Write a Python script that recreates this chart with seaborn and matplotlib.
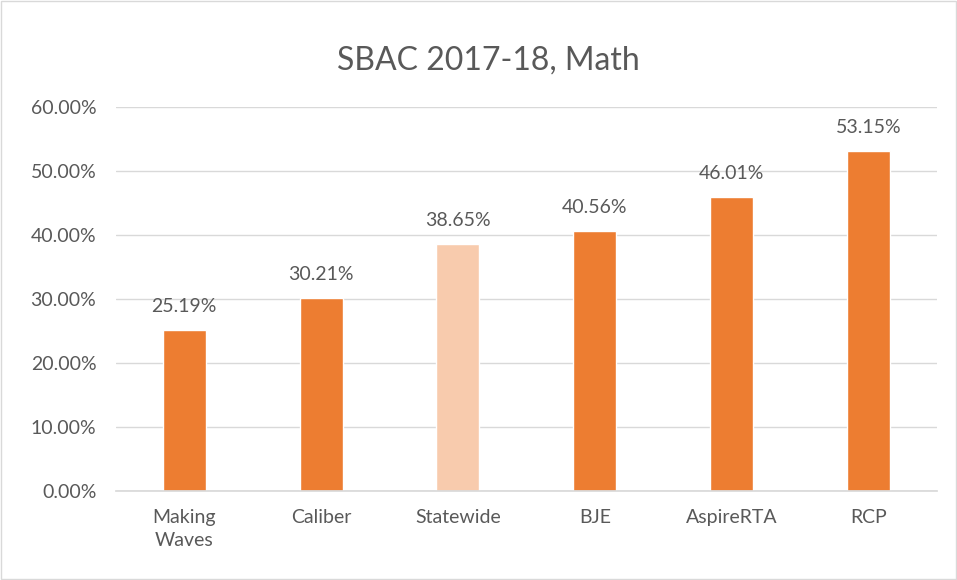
import numpy as np
import pandas as pd
import seaborn as sns
import matplotlib.pyplot as plt
import matplotlib.ticker as mtick
from matplotlib.patches import Rectangle

# data
schools = ['Making\nWaves', 'Caliber', 'Statewide', 'BJE', 'AspireRTA', 'RCP']
pct = [25.19, 30.21, 38.65, 40.56, 46.01, 53.15]
bar_colors = ['#ED7D31', '#ED7D31', '#F8CBAD', '#ED7D31', '#ED7D31', '#ED7D31']

sns.set_theme(style="white")
plt.rcParams['font.family'] = ['Lato', 'DejaVu Sans']
txt = '#595959'

df = pd.DataFrame({'school': schools, 'pct': np.array(pct) / 100})

fig = plt.figure(figsize=(9.57, 5.80), dpi=100)
ax = fig.add_axes([0.121, 0.1534, 0.858, 0.662])

sns.barplot(data=df, x='school', y='pct', hue='school', palette=bar_colors,
            legend=False, width=0.314, saturation=1, ax=ax)

for i, v in enumerate(pct):
    ax.annotate(f'{v:.2f}%', (i, v / 100), xytext=(0, 13), textcoords='offset points',
                ha='center', va='baseline', fontsize=14, color=txt)

ax.set_ylim(0, 0.6)
ax.set_xlim(-0.5, len(schools) - 0.5)
ax.yaxis.set_major_locator(mtick.MultipleLocator(0.1))
ax.yaxis.set_major_formatter(mtick.PercentFormatter(1.0, decimals=2))
ax.grid(True, axis='y', color='#D9D9D9', linewidth=1)
ax.set_axisbelow(True)
for s in ['top', 'right', 'left']:
    ax.spines[s].set_visible(False)
ax.spines['bottom'].set_color('#D9D9D9')
ax.tick_params(axis='both', length=0, labelsize=14, colors=txt)
ax.tick_params(axis='y', pad=14)
ax.tick_params(axis='x', pad=13)
for lab in ax.get_xticklabels():
    lab.set_linespacing(1.45)
ax.set_xlabel('')
ax.set_ylabel('')

fig.text(0.51, 1 - 61 / 580, 'SBAC 2017-18, Math', ha='center', va='center',
         fontsize=23, color=txt)

# chart area border
fig.patches.append(Rectangle((0.001, 0.001), 0.998, 0.998, transform=fig.transFigure,
                             fill=False, edgecolor='#D9D9D9', linewidth=1))

fig.savefig('out.png', dpi=100)
